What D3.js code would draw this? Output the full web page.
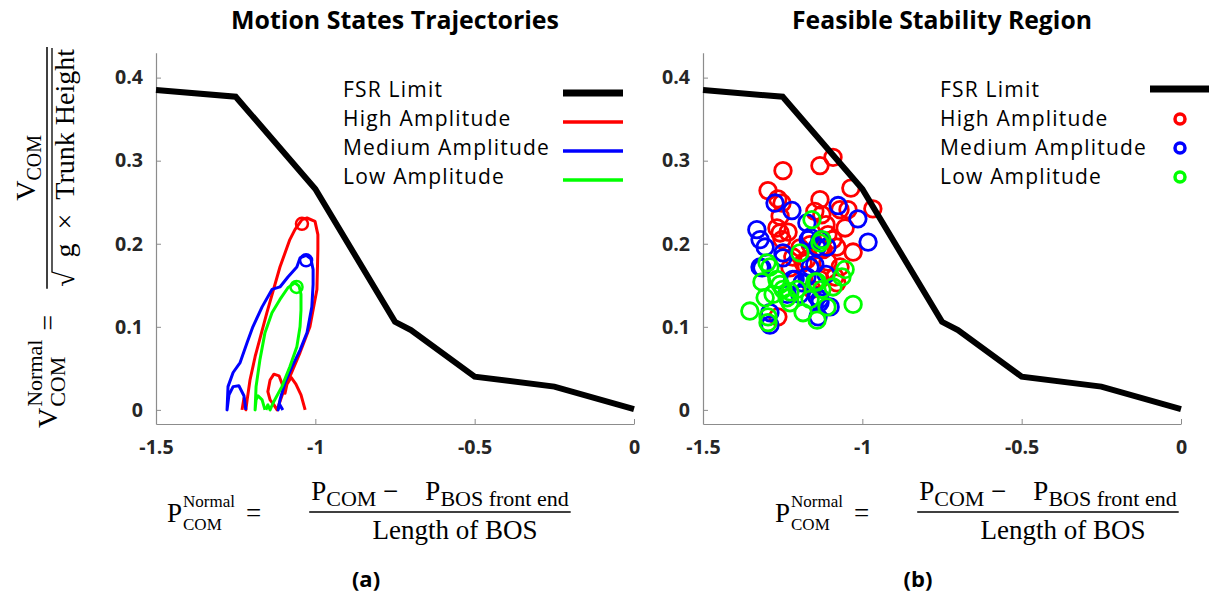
<!DOCTYPE html>
<html><head><meta charset="utf-8">
<script src="https://cdn.jsdelivr.net/npm/d3@7/dist/d3.min.js"></script>
<style>body{margin:0;background:#fff;} svg{display:block;}</style>
</head><body>
<svg id="chart" width="1209" height="597"></svg>
<script>
// ---------------- DATA ----------------
const xTicks = [-1.5, -1, -0.5, 0];
const xTickLabels = ["-1.5", "-1", "-0.5", "0"];
const yTicks = [0, 0.1, 0.2, 0.3, 0.4];
const yTickLabels = ["0", "0.1", "0.2", "0.3", "0.4"];

const fsrX = [-1.5, -1.25, -1.0, -0.75, -0.7, -0.5, -0.25, 0];
const fsrY = [0.385, 0.377, 0.266, 0.106, 0.096, 0.040, 0.028, 0.001];

const legendNames = ["FSR Limit", "High Amplitude", "Medium Amplitude", "Low Amplitude"];
const seriesColors = ["#ff0000", "#0000ff", "#00ff00"];

// trajectories (panel a)
const highTrajX = [-1.032,-1.045,-1.061,-1.076,-1.089,-1.095,-1.102,-1.114,-1.130,-1.142,-1.149,-1.142,-1.130,-1.120,-1.102,-1.080,-1.048,-1.017,-0.995,-0.992,-0.992,-1.001,-1.026,-1.042,-1.064,-1.080,-1.111,-1.152,-1.189,-1.205,-1.214,-1.218,-1.224,-1.230];
const highTrajY = [0,0.018,0.031,0.039,0.031,0.020,0.029,0.041,0.043,0.036,0.022,0.012,0.006,0,0.020,0.040,0.069,0.100,0.145,0.193,0.211,0.227,0.231,0.229,0.217,0.205,0.172,0.117,0.064,0.036,0.012,0,0.014,0];
const medTrajX = [-1.218,-1.224,-1.240,-1.258,-1.271,-1.277,-1.274,-1.258,-1.236,-1.214,-1.196,-1.167,-1.136,-1.111,-1.086,-1.058,-1.048,-1.029,-1.014,-1.007,-1.007,-1.011,-1.026,-1.048,-1.073,-1.095,-1.111,-1.117,-1.111,-1.102];
const medTrajY = [0,0.017,0.029,0.028,0.018,0,0.028,0.045,0.057,0.081,0.100,0.124,0.145,0.148,0.160,0.172,0.183,0.186,0.182,0.169,0.151,0.124,0.093,0.072,0.052,0.033,0.012,0,0.006,0];
const lowTrajX = [-1.158,-1.167,-1.180,-1.186,-1.189,-1.186,-1.174,-1.158,-1.136,-1.111,-1.086,-1.064,-1.051,-1.045,-1.045,-1.048,-1.058,-1.080,-1.105,-1.133,-1.142,-1.149,-1.155];
const lowTrajY = [0,0.012,0.017,0.012,0,0.028,0.060,0.093,0.117,0.133,0.147,0.153,0.149,0.139,0.120,0.100,0.076,0.052,0.028,0.008,0,0.006,0];
const trajEndX = [-1.042, -1.029, -1.059];
const trajEndY = [0.224, 0.180, 0.148];

// scatter (panel b)
const highPtsX = [-1.249,-1.133,-1.092,-1.036,-0.967,-1.296,-1.265,-1.252,-1.133,-1.258,-1.268,-1.252,-1.149,-1.127,-1.070,-1.045,-1.108,-1.092,-1.080,-1.196,-1.218,-1.174,-1.133,-1.108,-1.029,-1.086,-1.265,-1.258,-1.186,-1.123,-1.070,-1.080,-1.133,-1.114,-1.164,-1.233,-1.227,-1.158,-1.054];
const highPtsY = [0.288,0.294,0.304,0.267,0.242,0.264,0.254,0.249,0.253,0.233,0.219,0.205,0.239,0.235,0.241,0.241,0.211,0.205,0.196,0.195,0.184,0.181,0.193,0.178,0.190,0.160,0.112,0.213,0.177,0.193,0.172,0.153,0.157,0.223,0.199,0.214,0.171,0.145,0.219];
const medPtsX = [-1.274,-1.221,-1.331,-1.321,-1.305,-1.076,-1.014,-0.982,-1.174,-1.164,-1.133,-1.111,-1.321,-1.249,-1.164,-1.218,-1.189,-1.142,-1.133,-1.290,-1.139,-1.101,-1.174,-1.315,-1.249,-1.211,-1.170,-1.142,-1.114,-1.133,-1.236,-1.290,-1.149,-1.196];
const medPtsY = [0.249,0.240,0.217,0.205,0.196,0.246,0.230,0.202,0.225,0.208,0.205,0.196,0.172,0.189,0.172,0.157,0.153,0.136,0.129,0.117,0.112,0.124,0.160,0.171,0.183,0.157,0.205,0.196,0.163,0.133,0.139,0.102,0.175,0.139];
const lowPtsX = [-1.353,-1.296,-1.296,-1.280,-1.258,-1.268,-1.290,-1.236,-1.227,-1.186,-1.142,-1.142,-1.133,-1.064,-1.029,-1.111,-1.158,-1.299,-1.315,-1.227,-1.092,-1.149,-1.196,-1.127,-1.205,-1.249,-1.054,-1.127,-1.164,-1.305];
const lowPtsY = [0.119,0.112,0.105,0.139,0.151,0.157,0.172,0.135,0.142,0.117,0.108,0.154,0.201,0.160,0.127,0.124,0.229,0.177,0.154,0.129,0.148,0.154,0.189,0.205,0.145,0.145,0.169,0.145,0.133,0.135];

// ---------------- DRAWING ----------------
const svg = d3.select("#chart");
const sans = "'Open Sans', Lato, sans-serif";
const mathFont = "'Liberation Serif', 'DejaVu Serif', serif";
const xDomain = [-1.5, 0], yDomain = [-0.017, 0.43];
const plotTop = 52.7, plotBottom = 424;

function measure(text, size, weight) {
  const tmp = svg.append("text").style("font-family", sans).style("font-size", size + "px")
    .style("font-weight", weight).text(text);
  const w = tmp.node().getComputedTextLength();
  tmp.remove();
  return w;
}
function fitSize(text, target, weight) { return 20 * target / measure(text, 20, weight); }
const tickSize = fitSize("0.4", 28, "bold");
const legendSize = 21;
const legendSpacing = (207 - measure("Medium Amplitude", legendSize, "normal")) / 16;

const panels = [
  {x0: 156, x1: 634, title: "Motion States Trajectories", titleW: 328, tag: "(a)", tagX: 366, labX: 167},
  {x0: 703, x1: 1181, title: "Feasible Stability Region", titleW: 300, tag: "(b)", tagX: 918, labX: 775}
];

function zip(xs, ys) { return xs.map((v, i) => [v, ys[i]]); }

panels.forEach((p, pi) => {
  const x = d3.scaleLinear().domain(xDomain).range([p.x0, p.x1]);
  const y = d3.scaleLinear().domain(yDomain).range([plotBottom, plotTop]);
  const g = svg.append("g");

  const ax = g.append("g").attr("transform", `translate(0,${plotBottom})`)
    .call(d3.axisBottom(x).tickValues(xTicks).tickFormat((d, i) => xTickLabels[i])
      .tickSizeInner(-5).tickSizeOuter(0).tickPadding(16));
  const ay = g.append("g").attr("transform", `translate(${p.x0},0)`)
    .call(d3.axisLeft(y).tickValues(yTicks).tickFormat((d, i) => yTickLabels[i])
      .tickSizeInner(-5).tickSizeOuter(0).tickPadding(13));
  [ax, ay].forEach(a => {
    a.select(".domain").attr("stroke", "#8c8c8c").attr("stroke-width", 1.2);
    a.selectAll(".tick line").attr("stroke", "#8c8c8c").attr("stroke-width", 1);
    a.selectAll(".tick text").attr("fill", "#262626")
      .style("font-family", sans).style("font-size", tickSize + "px").style("font-weight", "bold");
  });

  g.append("text").attr("x", (p.x0 + p.x1) / 2).attr("y", 29).attr("text-anchor", "middle")
    .style("font-family", sans).style("font-size", fitSize(p.title, p.titleW, "bold") + "px")
    .style("font-weight", "bold").text(p.title);
  g.append("text").attr("x", p.tagX).attr("y", 587).attr("text-anchor", "middle")
    .style("font-family", sans).style("font-size", "22px").style("font-weight", "bold")
    .text(p.tag);

  const line = d3.line().x(d => x(d[0])).y(d => y(d[1]));

  if (pi === 0) {
    const trajs = [zip(highTrajX, highTrajY), zip(medTrajX, medTrajY), zip(lowTrajX, lowTrajY)];
    trajs.forEach((t, i) => {
      g.append("path").attr("d", line(t)).attr("fill", "none")
        .attr("stroke", seriesColors[i]).attr("stroke-width", 3).attr("stroke-linejoin", "round");
      g.append("circle").attr("cx", x(trajEndX[i])).attr("cy", y(trajEndY[i])).attr("r", 6)
        .attr("fill", "none").attr("stroke", seriesColors[i]).attr("stroke-width", 2.5);
    });
  } else {
    const pts = [zip(highPtsX, highPtsY), zip(medPtsX, medPtsY), zip(lowPtsX, lowPtsY)];
    pts.forEach((s, i) => {
      g.append("g").selectAll("circle").data(s).join("circle")
        .attr("cx", d => x(d[0])).attr("cy", d => y(d[1])).attr("r", 8.3)
        .attr("fill", "none").attr("stroke", seriesColors[i]).attr("stroke-width", 2.8);
    });
  }

  g.append("path").attr("d", line(zip(fsrX, fsrY))).attr("fill", "none")
    .attr("stroke", "#000").attr("stroke-width", 6).attr("stroke-linejoin", "miter");

  const lg = g.append("g");
  const legTextX = pi === 0 ? 343 : 940;
  const baselines = [97, 126, 155, 184];
  legendNames.forEach((n, i) => {
    lg.append("text").attr("x", legTextX).attr("y", baselines[i])
      .style("font-family", sans).style("font-size", legendSize + "px")
      .style("letter-spacing", legendSpacing + "px").text(n);
    const cy = baselines[i] - 4;
    if (pi === 0) {
      lg.append("line").attr("x1", 563).attr("x2", 623).attr("y1", cy).attr("y2", cy)
        .attr("stroke", i === 0 ? "#000" : seriesColors[i - 1]).attr("stroke-width", i === 0 ? 7 : 3.5);
    } else if (i === 0) {
      lg.append("line").attr("x1", 1150).attr("x2", 1215).attr("y1", cy - 4).attr("y2", cy - 4)
        .attr("stroke", "#000").attr("stroke-width", 7);
    } else {
      lg.append("circle").attr("cx", 1180).attr("cy", cy - 3).attr("r", 5)
        .attr("fill", "none").attr("stroke", seriesColors[i - 1]).attr("stroke-width", 3.5);
    }
  });

  const xl = svg.append("g").attr("transform", `translate(${p.labX},512)`);
  mathLabel(xl, {big: 27, small: 17, numSmall: 22, eqGap: 48, stackGap: 11, denShift: 15,
    num: [["P", 0], ["COM", 1], [" \u2212", 0], ["\u2003P", 0], ["BOS front end", 1]],
    den: [["Length of BOS", 0]], sqrt: false});
});

// y label (rotated)
const yl = svg.append("g");
const yw = mathLabel(yl, {big: 28, small: 22, numSmall: 20, eqGap: 26, stackGap: 9, denShift: 0,
  num: [["V", 0], ["COM", 1]],
  den: [["\u2002g", 0], ["\u2002\u00d7\u2002", 0], ["Trunk Height", 0]], sqrt: true, lhsMain: "V"});
yl.attr("transform", `translate(47,${47 + yw}) rotate(-90)`);

function mathLabel(g, o) {
  const big = o.big, small = o.small, ns = o.numSmall;
  const mainBase = 10, supBase = -5, subBase = 18, numBase = -12, denBase = 27;
  function t(str, x, yb, size) {
    return g.append("text").attr("x", x).attr("y", yb)
      .style("font-family", mathFont).style("font-size", size + "px")
      .style("white-space", "pre").text(str);
  }
  let cx = 0;
  const m = t(o.lhsMain || "P", cx, mainBase, big); cx += m.node().getComputedTextLength() + 1;
  const s1 = t("Normal", cx, supBase, small), s2 = t("COM", cx, subBase, small);
  cx += Math.max(s1.node().getComputedTextLength(), s2.node().getComputedTextLength()) + o.stackGap;
  const eq = t("=", cx, mainBase, big); cx += eq.node().getComputedTextLength() + o.eqGap;

  function seqWidth(parts) {
    let w = 0;
    parts.forEach(pp => {
      const e = t(pp[0], 0, 0, pp[1] ? ns : big);
      w += e.node().getComputedTextLength(); e.remove();
    });
    return w;
  }
  let sqrtW = 0;
  if (o.sqrt) { const tmp = t("\u221a", 0, 0, big); sqrtW = tmp.node().getComputedTextLength(); tmp.remove(); }
  const nw = seqWidth(o.num), dw = seqWidth(o.den) + sqrtW;
  const fw = Math.max(nw, dw) + 4;
  g.append("line").attr("x1", cx).attr("x2", cx + fw).attr("y1", 0).attr("y2", 0)
    .attr("stroke", "#000").attr("stroke-width", 1.5);
  function drawSeq(parts, startX, base) {
    let px = startX;
    parts.forEach(pp => {
      const e = t(pp[0], px, base + (pp[1] ? 6 : 0), pp[1] ? ns : big);
      px += e.node().getComputedTextLength();
    });
  }
  drawSeq(o.num, cx + (fw - nw) / 2, numBase);
  let dx = cx + (fw - dw) / 2 + o.denShift;
  if (o.sqrt) {
    t("\u221a", dx, denBase, big);
    g.append("line").attr("x1", dx + sqrtW - 1).attr("x2", dx + dw + 1).attr("y1", 5).attr("y2", 5)
      .attr("stroke", "#000").attr("stroke-width", 1.3);
    dx += sqrtW;
  }
  drawSeq(o.den, dx, denBase);
  return cx + fw;
}
</script>
</body></html>
